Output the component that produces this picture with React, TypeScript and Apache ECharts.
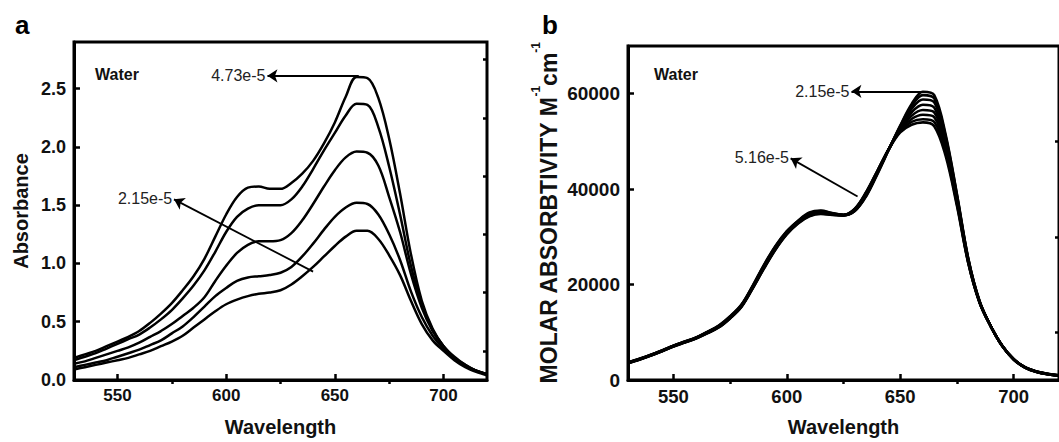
import React, { useEffect, useRef } from "react";
import * as echarts from "echarts";

// ---------- Panel a data (Absorbance vs wavelength) ----------
const wlA = [530, 535, 540, 545, 550, 555, 560, 565, 570, 575, 580, 585, 590, 595, 600, 605, 610, 615, 620, 625, 630, 635, 640, 645, 650, 655, 660, 665, 670, 675, 680, 685, 690, 695, 700, 705, 710, 715, 720];
const absA1 = [0.19, 0.22, 0.25, 0.29, 0.33, 0.37, 0.42, 0.49, 0.57, 0.66, 0.77, 0.89, 1.04, 1.23, 1.42, 1.57, 1.65, 1.66, 1.64, 1.64, 1.69, 1.77, 1.88, 2.03, 2.21, 2.43, 2.60, 2.59, 2.42, 2.07, 1.60, 1.08, 0.68, 0.44, 0.29, 0.19, 0.12, 0.08, 0.05];
const absA2 = [0.17, 0.20, 0.23, 0.27, 0.31, 0.35, 0.39, 0.45, 0.52, 0.60, 0.70, 0.81, 0.94, 1.10, 1.27, 1.40, 1.47, 1.50, 1.50, 1.50, 1.55, 1.66, 1.81, 1.97, 2.12, 2.27, 2.37, 2.36, 2.17, 1.83, 1.42, 0.98, 0.65, 0.43, 0.29, 0.19, 0.13, 0.08, 0.05];
const absA3 = [0.14, 0.16, 0.19, 0.22, 0.25, 0.28, 0.32, 0.37, 0.42, 0.48, 0.55, 0.62, 0.71, 0.85, 0.98, 1.09, 1.16, 1.19, 1.19, 1.20, 1.26, 1.37, 1.51, 1.66, 1.80, 1.91, 1.96, 1.95, 1.84, 1.57, 1.27, 0.91, 0.62, 0.42, 0.29, 0.20, 0.13, 0.08, 0.05];
const absA4 = [0.11, 0.13, 0.15, 0.17, 0.20, 0.23, 0.26, 0.30, 0.34, 0.40, 0.46, 0.54, 0.63, 0.72, 0.79, 0.85, 0.88, 0.89, 0.90, 0.92, 0.97, 1.06, 1.17, 1.29, 1.40, 1.48, 1.52, 1.51, 1.42, 1.25, 1.03, 0.76, 0.54, 0.38, 0.27, 0.19, 0.12, 0.08, 0.05];
const absA5 = [0.09, 0.11, 0.13, 0.15, 0.17, 0.19, 0.22, 0.25, 0.29, 0.33, 0.38, 0.45, 0.52, 0.59, 0.65, 0.69, 0.72, 0.74, 0.75, 0.77, 0.82, 0.89, 0.97, 1.06, 1.15, 1.23, 1.28, 1.28, 1.21, 1.07, 0.90, 0.68, 0.48, 0.34, 0.25, 0.17, 0.11, 0.07, 0.04];
const seriesA = [absA1, absA2, absA3, absA4, absA5];

const xMajorTicks = [550, 600, 650, 700];
const xMinorTicks = [575, 625, 675];
const yMajorA = [0, 0.5, 1.0, 1.5, 2.0, 2.5];
const yMinorA = [0.25, 0.75, 1.25, 1.75, 2.25, 2.75];

// annotation arrows panel a
const arrowA1 = { from: [661, 2.61], to: [619, 2.61], label: "4.73e-5" };
const arrowA2 = { from: [640, 0.93], to: [576, 1.55], label: "2.15e-5" };

// ---------- Panel b data (Molar absorptivity) ----------
const wlB = [530, 535, 540, 545, 550, 555, 560, 565, 570, 575, 580, 585, 590, 595, 600, 605, 610, 615, 620, 625, 630, 635, 640, 645, 650, 655, 660, 665, 670, 675, 680, 685, 690, 695, 700, 705, 710, 715, 720];
const molB1 = [3500, 4250, 5100, 6000, 7000, 7850, 8700, 9800, 11000, 12900, 15300, 19200, 23400, 27300, 30500, 32800, 34300, 34800, 34600, 34500, 35400, 38500, 43200, 48300, 53300, 57800, 60400, 59700, 51500, 39000, 25500, 16500, 11200, 7100, 4300, 2600, 1700, 1200, 900];
const molB2 = [3520, 4270, 5120, 6030, 7030, 7880, 8730, 9840, 11050, 12960, 15360, 19280, 23500, 27400, 30600, 32900, 34400, 34900, 34650, 34520, 35450, 38650, 43350, 48350, 53200, 57400, 59700, 59000, 51100, 38800, 25400, 16450, 11200, 7110, 4310, 2610, 1710, 1210, 910];
const molB3 = [3550, 4300, 5150, 6060, 7060, 7910, 8760, 9880, 11100, 13020, 15430, 19360, 23600, 27500, 30700, 33000, 34500, 35000, 34700, 34540, 35520, 38800, 43500, 48400, 53000, 56800, 58800, 58200, 50500, 38500, 25300, 16400, 11200, 7120, 4320, 2620, 1720, 1220, 920];
const molB4 = [3580, 4330, 5180, 6090, 7090, 7940, 8790, 9930, 11160, 13090, 15500, 19440, 23700, 27620, 30800, 33100, 34620, 35100, 34760, 34560, 35600, 38950, 43600, 48420, 52800, 56100, 57700, 57100, 49800, 38100, 25100, 16350, 11200, 7130, 4330, 2630, 1730, 1230, 930];
const molB5 = [3610, 4360, 5210, 6120, 7120, 7970, 8820, 9970, 11220, 13150, 15570, 19520, 23800, 27740, 30900, 33200, 34740, 35200, 34820, 34570, 35680, 39100, 43700, 48440, 52600, 55400, 56600, 56100, 49100, 37700, 24900, 16300, 11200, 7150, 4350, 2650, 1750, 1250, 950];
const molB6 = [3640, 4390, 5240, 6150, 7150, 8000, 8850, 10020, 11280, 13220, 15640, 19600, 23950, 27860, 31000, 33280, 34860, 35300, 34880, 34580, 35760, 39200, 43780, 48420, 52400, 54700, 55600, 55100, 48400, 37300, 24700, 16250, 11200, 7170, 4370, 2670, 1770, 1270, 970];
const molB7 = [3670, 4420, 5270, 6180, 7180, 8030, 8880, 10070, 11340, 13290, 15720, 19700, 24080, 27980, 31100, 33340, 34980, 35400, 34940, 34590, 35830, 39300, 43850, 48410, 52150, 54100, 54650, 54100, 47700, 36900, 24600, 16220, 11200, 7190, 4390, 2690, 1790, 1290, 990];
const molB8 = [3700, 4450, 5300, 6200, 7200, 8050, 8900, 10100, 11400, 13350, 15800, 19800, 24200, 28100, 31200, 33400, 35100, 35500, 35000, 34600, 35900, 39400, 43900, 48400, 51900, 53500, 54000, 53200, 47000, 36500, 24500, 16200, 11200, 7200, 4400, 2700, 1800, 1300, 1000];
const seriesB = [molB1, molB2, molB3, molB4, molB5, molB6, molB7, molB8];

const yMajorB = [0, 20000, 40000, 60000];
const yMinorB = [10000, 30000, 50000];

const arrowB1 = { from: [662, 60500], to: [628.5, 60500], label: "2.15e-5" };
const arrowB2 = { from: [631.2, 38450], to: [601.7, 46450], label: "5.16e-5" };

const FONT = "'Liberation Sans', Arial, Helvetica, sans-serif";
const INK = "#111";

function arrowLine(a: { from: number[]; to: number[]; label: string }) {
  return [
    { coord: a.from, name: a.label },
    { coord: a.to, name: a.label },
  ];
}

export default function App() {
  const ref = useRef<HTMLDivElement>(null);
  useEffect(() => {
    if (!ref.current) return;
    const chart = echarts.init(ref.current, undefined, { renderer: "svg" });

    const markLineStyle = (arrows: any[]) => ({
      silent: true,
      symbol: ["none", "arrow"],
      symbolSize: 10,
      lineStyle: { color: "#000", width: 1.8, type: "solid" },
      label: {
        show: true,
        position: "end",
        formatter: "{b}",
        fontFamily: FONT,
        fontSize: 16,
        color: "#222",
        distance: 2,
      },
      emphasis: { disabled: true },
      data: arrows.map(arrowLine),
    });

    const majorX = (gridIndex: number, fs: number) => ({
      type: "value",
      gridIndex,
      min: 530,
      max: 720,
      name: "Wavelength",
      nameLocation: "middle",
      nameGap: 37,
      nameTextStyle: { fontFamily: FONT, fontSize: 20, fontWeight: "bold", color: INK },
      axisLine: { show: true, onZero: false, lineStyle: { color: "#000", width: 3 } },
      axisTick: { show: true, inside: true, length: 6, lineStyle: { color: "#000", width: 2.5 }, customValues: xMajorTicks },
      axisLabel: { show: true, customValues: xMajorTicks, fontFamily: FONT, fontSize: fs, fontWeight: "bold", color: INK, margin: 7 },
      splitLine: { show: false },
    });
    const minorX = (gridIndex: number) => ({
      type: "value",
      gridIndex,
      min: 530,
      max: 720,
      axisLine: { show: false },
      axisLabel: { show: false },
      axisTick: { show: true, inside: true, length: 4, lineStyle: { color: "#000", width: 2.5 }, customValues: xMinorTicks },
      splitLine: { show: false },
    });

    const option: any = {
      animation: false,
      backgroundColor: "#fff",
      grid: [
        { left: 74, top: 42, width: 413, height: 340, show: true, borderColor: "#000", borderWidth: 3, backgroundColor: "transparent" },
        { left: 628, top: 46, width: 440, height: 336, show: true, borderColor: "#000", borderWidth: 3, backgroundColor: "transparent" },
      ],
      xAxis: [majorX(0, 17), minorX(0), majorX(1, 18.5), minorX(1)],
      yAxis: [
        {
          type: "value",
          gridIndex: 0,
          min: 0,
          max: 2.9,
          name: "Absorbance",
          nameLocation: "middle",
          nameRotate: 90,
          nameGap: 43,
          nameTextStyle: { fontFamily: FONT, fontSize: 20, fontWeight: "bold", color: INK },
          axisLine: { show: true, onZero: false, lineStyle: { color: "#000", width: 3 } },
          axisTick: { show: true, inside: true, length: 6, lineStyle: { color: "#000", width: 2.5 }, customValues: yMajorA },
          axisLabel: {
            show: true,
            customValues: yMajorA,
            formatter: (v: number) => v.toFixed(1),
            fontFamily: FONT,
            fontSize: 18,
            fontWeight: "bold",
            color: INK,
            margin: 8,
          },
          splitLine: { show: false },
        },
        {
          type: "value",
          gridIndex: 0,
          min: 0,
          max: 2.9,
          axisLine: { show: false },
          axisLabel: { show: false },
          axisTick: { show: true, inside: true, length: 4, lineStyle: { color: "#000", width: 2.5 }, customValues: yMinorA },
          splitLine: { show: false },
        },
        {
          type: "value",
          gridIndex: 1,
          min: 0,
          max: 70000,
          name: "{t|MOLAR ABSORBTIVITY M}{s|-1}{t|cm}{s|-1}",
          nameLocation: "middle",
          nameRotate: 90,
          nameGap: 68,
          nameTextStyle: {
            rich: {
              t: { fontFamily: FONT, fontSize: 23, fontWeight: "bold", color: INK, lineHeight: 30, verticalAlign: "bottom" },
              s: { fontFamily: FONT, fontSize: 12, fontWeight: "bold", color: INK, lineHeight: 12, verticalAlign: "top" },
            },
          },
          axisLine: { show: true, onZero: false, lineStyle: { color: "#000", width: 3 } },
          axisTick: { show: true, inside: true, length: 6, lineStyle: { color: "#000", width: 2.5 }, customValues: yMajorB },
          axisLabel: {
            show: true,
            customValues: yMajorB,
            formatter: (v: number) => String(v),
            fontFamily: FONT,
            fontSize: 19,
            fontWeight: "bold",
            color: INK,
            margin: 8,
          },
          splitLine: { show: false },
        },
        {
          type: "value",
          gridIndex: 1,
          min: 0,
          max: 70000,
          axisLine: { show: false },
          axisLabel: { show: false },
          axisTick: { show: true, inside: true, length: 4, lineStyle: { color: "#000", width: 2.5 }, customValues: yMinorB },
          splitLine: { show: false },
        },
      ],
      series: [
        ...seriesA.map((arr, k) => ({
          type: "line",
          xAxisIndex: 0,
          yAxisIndex: 0,
          data: wlA.map((w, i) => [w, arr[i]]),
          showSymbol: false,
          smooth: 0.35,
          lineStyle: { color: "#000", width: 2.5 },
          silent: true,
          z: 3,
          markLine: k === 0 ? markLineStyle([arrowA1, arrowA2]) : undefined,
        })),
        ...seriesB.map((arr, k) => ({
          type: "line",
          xAxisIndex: 2,
          yAxisIndex: 2,
          data: wlB.map((w, i) => [w, arr[i]]),
          showSymbol: false,
          smooth: 0.35,
          lineStyle: { color: "#000", width: 2.6 },
          silent: true,
          z: 3,
          markLine: k === 0 ? markLineStyle([arrowB1, arrowB2]) : undefined,
        })),
      ],
      graphic: [
        { type: "text", left: 15, top: 12, style: { text: "a", font: `bold 26px ${FONT}`, fill: "#000" } },
        { type: "text", left: 542, top: 12, style: { text: "b", font: `bold 26px ${FONT}`, fill: "#000" } },
        { type: "text", left: 95, top: 66, style: { text: "Water", font: `bold 16px ${FONT}`, fill: INK } },
        { type: "text", left: 654, top: 66, style: { text: "Water", font: `bold 16px ${FONT}`, fill: INK } },
      ],
    };
    chart.setOption(option);
    return () => chart.dispose();
  }, []);
  return (
    <div
      ref={ref}
      style={{ position: "absolute", left: 0, top: 0, width: 1059, height: 442, background: "#fff" }}
    />
  );
}
